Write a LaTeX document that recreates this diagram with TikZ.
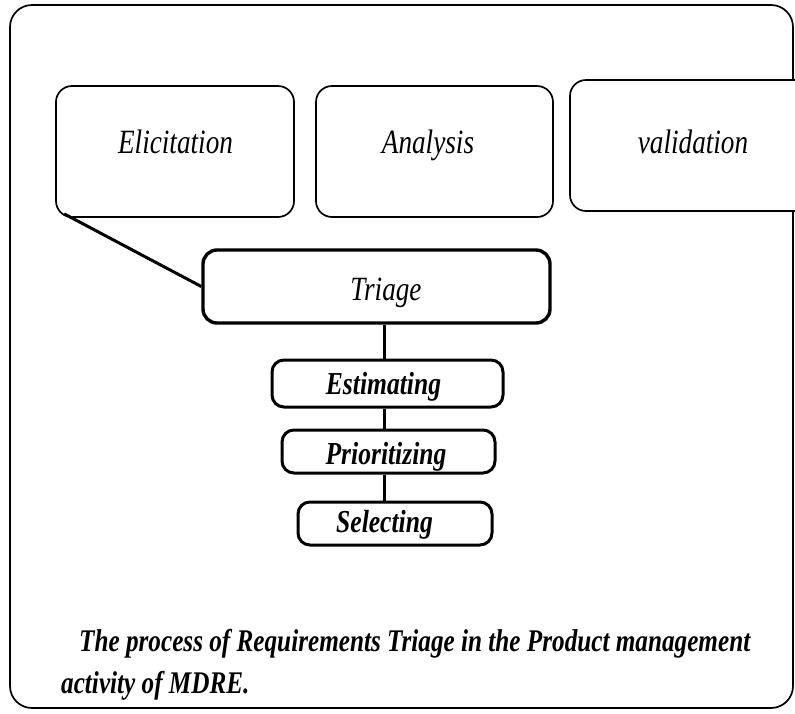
\documentclass[tikz,border=0pt]{standalone}
\usepackage{fontspec}
\setmainfont{Liberation Serif}[FakeStretch=0.8]
\usetikzlibrary{calc}
\tikzset{
  topbox/.style={draw, fill=white, line width=1.7pt, rounded corners=16pt, inner sep=0pt},
  triagebox/.style={draw, line width=3.4pt, rounded corners=14pt, inner sep=0pt},
  smallbox/.style={draw, line width=3pt, rounded corners=12pt, inner sep=0pt},
  lbl/.style={font=\fontsize{34}{40}\selectfont\itshape, inner sep=0pt, anchor=base},
  blbl/.style={font=\fontsize{32}{38}\selectfont\itshape\bfseries, inner sep=0pt, anchor=base},
  captext/.style={font=\fontsize{31.5}{36}\selectfont\itshape\bfseries, inner sep=0pt, anchor=base west},
  link/.style={line width=3pt}
}
\begin{document}
\begin{tikzpicture}[x=1pt,y=-1pt]
\useasboundingbox (0,0) rectangle (795,713);
\node[draw, line width=1.7pt, rounded corners=22pt, minimum width=783pt, minimum height=703pt, inner sep=0pt] (outer) at (401.5,356.5) {};
% top boxes
\node[topbox, minimum width=238pt, minimum height=131pt] (elic) at (175,151.5) {};
\node[topbox, minimum width=237pt, minimum height=131pt] (anal) at (434.5,151.5) {};
\node[topbox, minimum width=240pt, minimum height=131pt] (valid) at (690,145.5) {};
\node[lbl] (elict) at (175.5,153) {Elicitation};
\node[lbl] (analt) at (428,153) {Analysis};
\node[lbl] (validt) at (693,153) {validation};
% triage
\node[triagebox, minimum width=347pt, minimum height=73pt] (triage) at (376.5,286.5) {};
\node[lbl] (triaget) at (386,300) {Triage};
\node[smallbox, minimum width=231pt, minimum height=47pt] (estim) at (387.5,383.5) {};
\node[blbl] (estimt) at (383.5,394) {Estimating};
\node[smallbox, minimum width=213pt, minimum height=43pt] (prio) at (388.5,451.5) {};
\node[blbl] (priot) at (386,464) {Prioritizing};
\node[smallbox, minimum width=194pt, minimum height=43pt] (sel) at (395,523.5) {};
\node[blbl] (selt) at (384.5,532) {Selecting};
% connectors
\coordinate (vx) at (384,0);
\coordinate (ecorner) at ($(elic.south west)+(9,-4)$);
\draw[link] (ecorner) -- (triage.west);
\draw[link] (triage.south -| vx) -- (estim.north -| vx);
\draw[link] (estim.south -| vx) -- (prio.north -| vx);
\draw[link] (prio.south -| vx) -- (sel.north -| vx);
% caption
\node[captext] (cap1) at (79,651) {The process of Requirements Triage in the Product management};
\node[captext] (cap2) at (61,693) {activity of MDRE.};
\end{tikzpicture}
\end{document}
